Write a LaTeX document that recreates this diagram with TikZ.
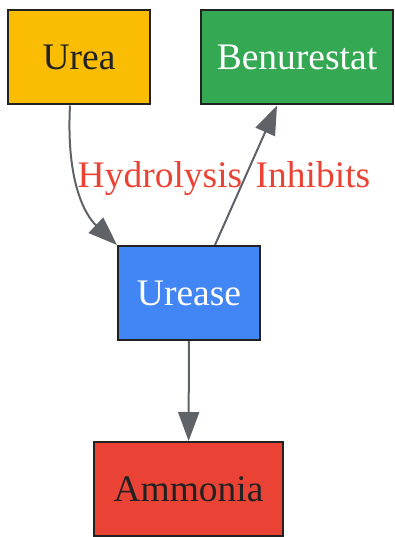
\documentclass[tikz,border=0pt]{standalone}
\usepackage{fontspec}
\setmainfont{Liberation Serif}
\usepackage{tikz}
\usetikzlibrary{arrows.meta}

\definecolor{ureayellow}{HTML}{FBBC04}
\definecolor{inhibgreen}{HTML}{34A853}
\definecolor{enzblue}{HTML}{4285F4}
\definecolor{prodred}{HTML}{EA4335}
\definecolor{linkgray}{HTML}{5F6368}
\definecolor{boxline}{HTML}{222222}

\begin{document}
\begin{tikzpicture}[x=1pt,y=-1pt,
  box/.style={draw=boxline, line width=2pt, inner sep=0pt,
    minimum width=142pt, minimum height=94pt,
    font=\fontsize{37.5}{42}\selectfont},
  link/.style={draw=linkgray, line width=2pt,
    -{Triangle[length=29pt,width=21pt]}},
  tag/.style={text=prodred, anchor=base, inner sep=0pt,
    font=\fontsize{37.5}{42}\selectfont}]

\useasboundingbox (0,0) rectangle (394,537);

% boxes
\node [box, fill=ureayellow, text=boxline] (urea) at (79,57.5) {Urea};
\node [box, fill=inhibgreen, text=white, minimum width=192pt] (benu) at (297,57.5) {Benurestat};
\node [box, fill=enzblue, text=white] (urease) at (189,293) {Urease};
\node [box, fill=prodred, text=boxline, minimum width=189pt] (ammonia) at (188.5,489) {Ammonia};

% connectors
\draw [link] ([xshift=-9pt]urea.south) .. controls +(-4,76) and +(-32,-30) .. (urease.north west);
\draw [link] ([xshift=26pt]urease.north) -- ([xshift=-20pt]benu.south);
\draw [link] (urease) -- (ammonia);

\node [tag] (hydro) at (160,188) {Hydrolysis};
\node [tag] (inhib) at (313,188) {Inhibits};

\end{tikzpicture}
\end{document}
